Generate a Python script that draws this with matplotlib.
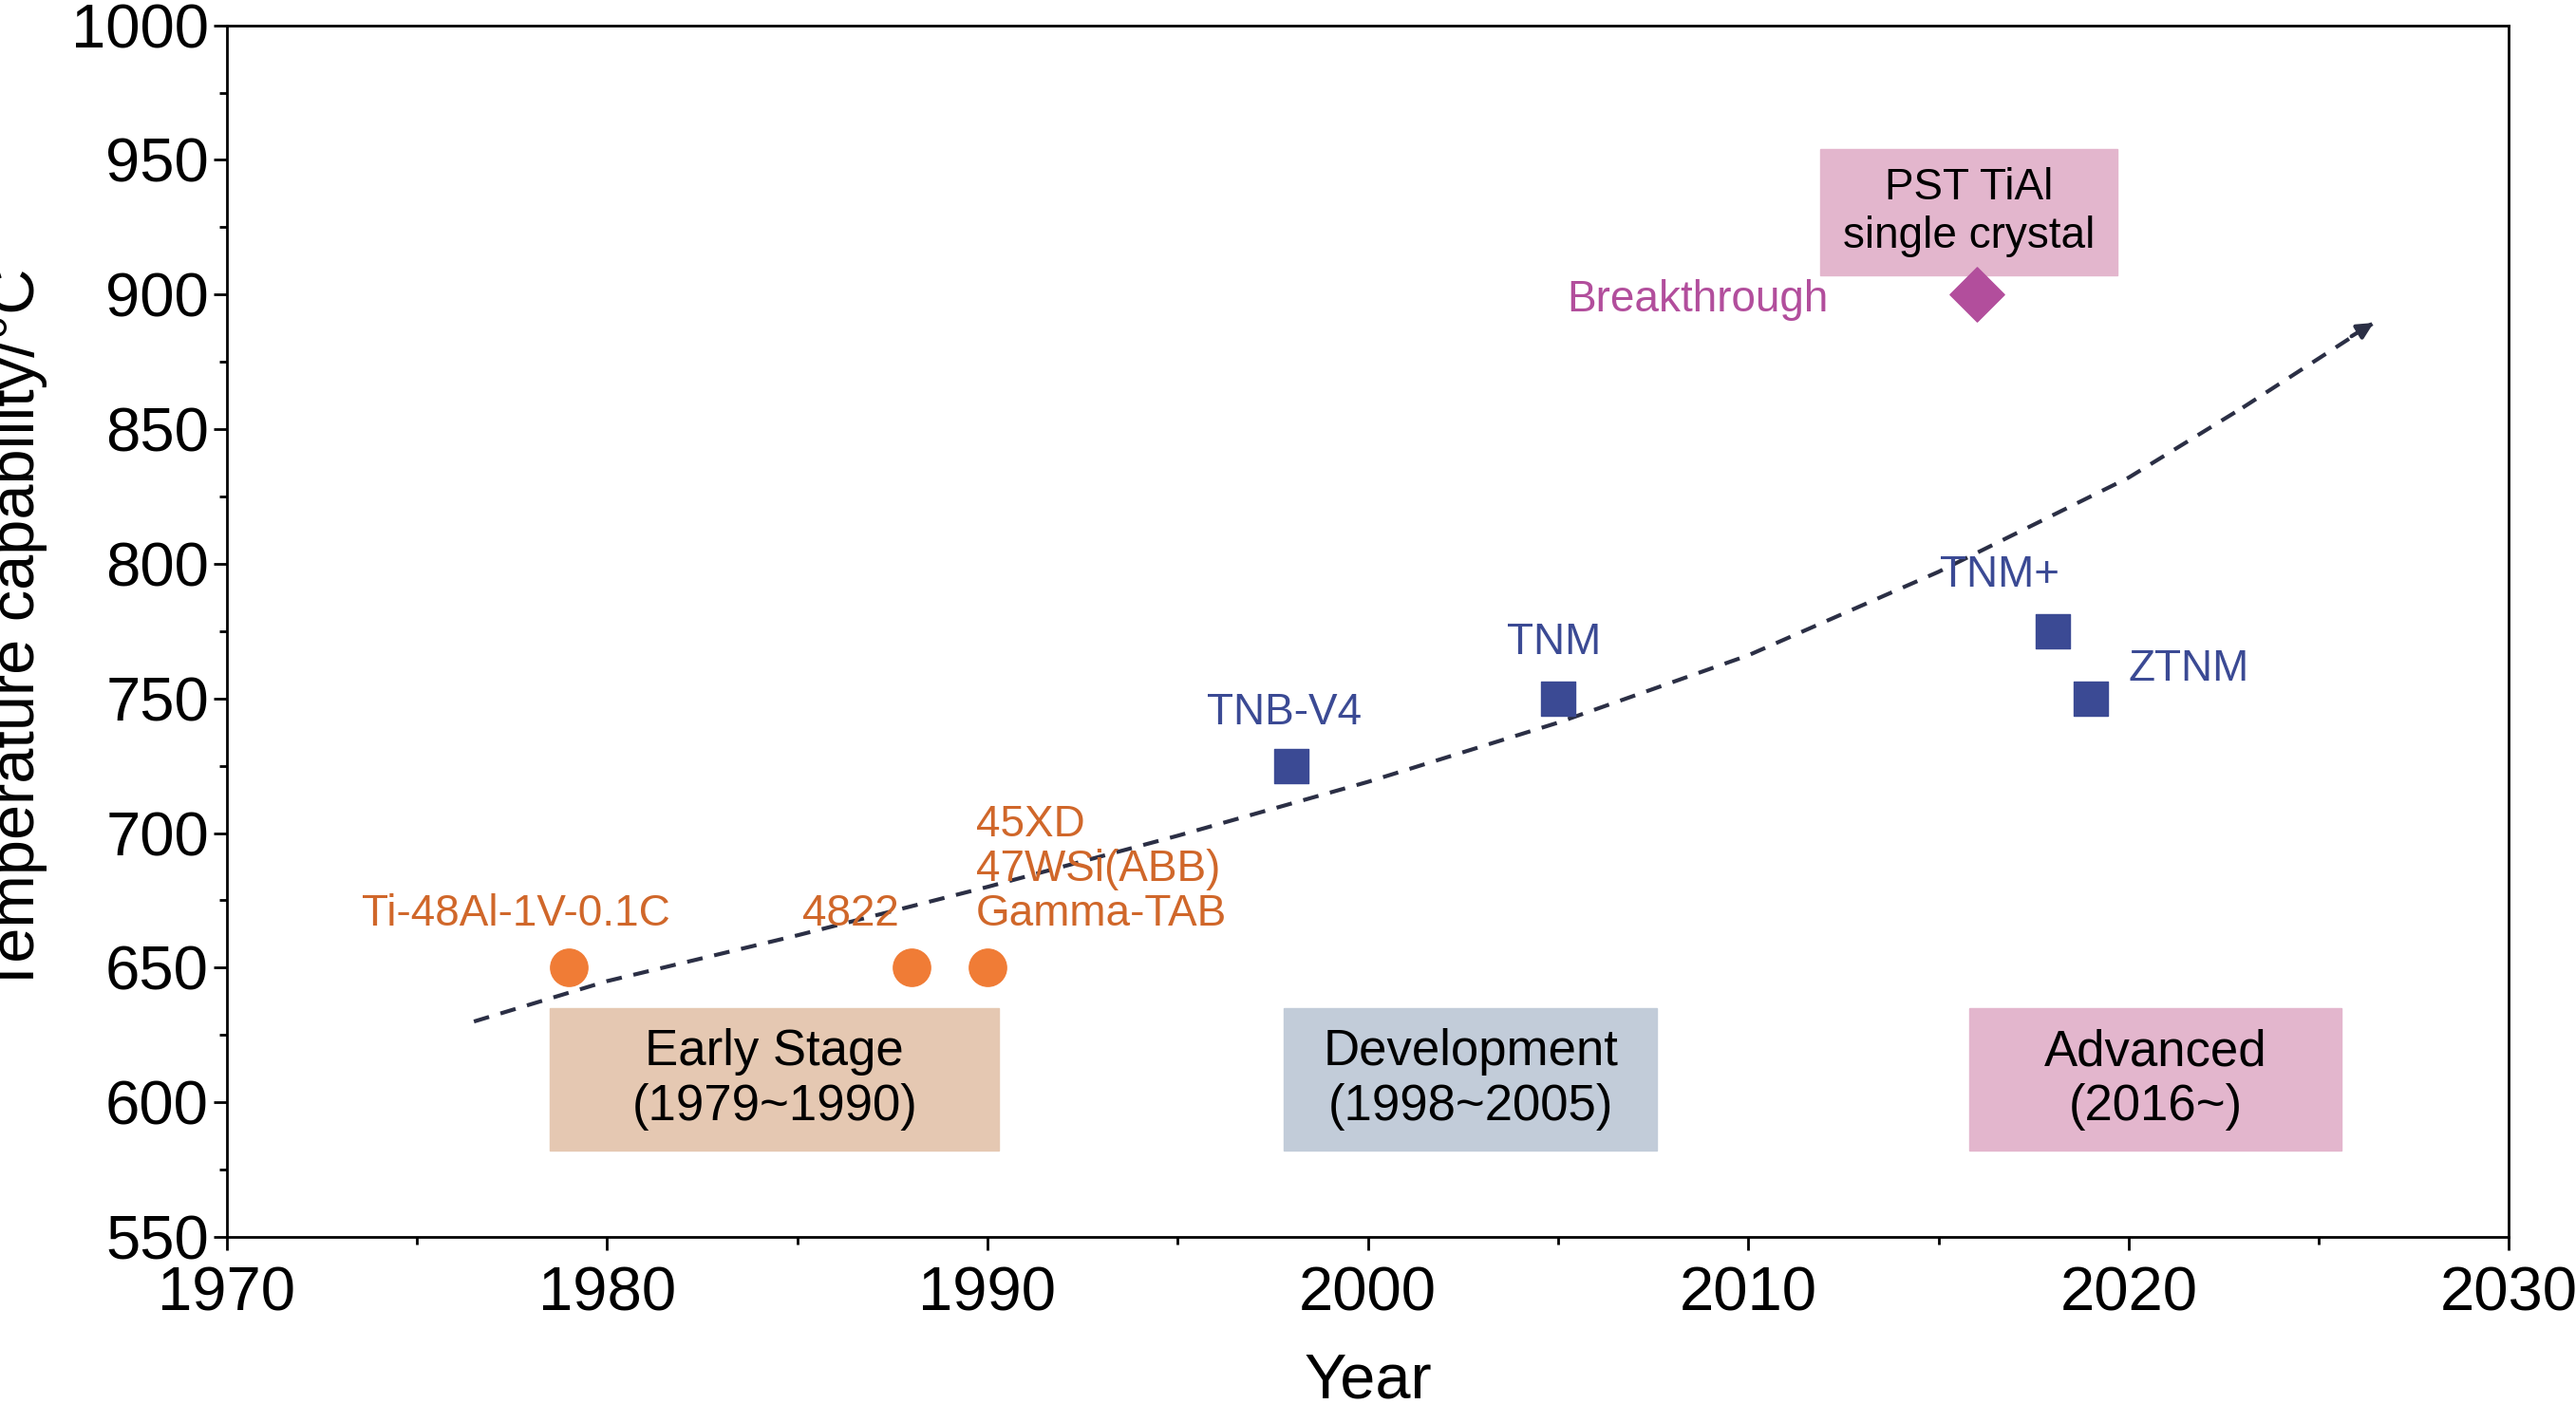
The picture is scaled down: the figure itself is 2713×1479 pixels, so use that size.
import matplotlib.pyplot as plt
from matplotlib.patches import Rectangle

plt.rcParams['font.family'] = ['Liberation Sans', 'DejaVu Sans']

# data
early_years = [1979, 1988, 1990]
early_temps = [650, 650, 650]
early_labels = ["Ti-48Al-1V-0.1C", "4822", "45XD\n47WSi(ABB)\nGamma-TAB"]
dev_years = [1998, 2005, 2018, 2019]
dev_temps = [725, 750, 775, 750]
dev_labels = ["TNB-V4", "TNM", "TNM+", "ZTNM"]
pst_year, pst_temp = 2016, 900
trend_x = [1976.5, 1980, 1985, 1990, 1995, 2000, 2005, 2010, 2015, 2020, 2023, 2026.5]
trend_y = [630, 645, 662, 680, 699, 719, 741, 766, 797, 832, 858, 890]

fig = plt.figure(figsize=(27.13, 14.79), dpi=100)
ax = fig.add_axes([0.088, 0.119, 0.886, 0.863])
ax.set_xlim(1970, 2030)
ax.set_ylim(550, 1000)

orange = '#f07c36'
otext = '#d0672a'
navy = '#3b4a94'
purple = '#b24e9c'
line_c = '#2b2f45'

# stage boxes
boxes = [(1978.5, 1990.3, '#e5c8b2', "Early Stage\n(1979~1990)"),
         (1997.8, 2007.6, '#c2ccd9', "Development\n(1998~2005)"),
         (2015.8, 2025.6, '#e3b6cd', "Advanced\n(2016~)")]
for x0, x1, c, t in boxes:
    ax.add_patch(Rectangle((x0, 582), x1 - x0, 53, color=c, zorder=1))
    ax.text((x0 + x1) / 2, 608.5, t, ha='center', va='center', fontsize=38,
            linespacing=1.2, zorder=2)
ax.add_patch(Rectangle((2011.9, 907), 7.8, 47, color='#e3b6cd', zorder=1))
ax.text(2015.8, 930.5, "PST TiAl\nsingle crystal", ha='center', va='center',
        fontsize=33, linespacing=1.2, zorder=2)

# trend
ax.plot(trend_x[:-1], trend_y[:-1], color=line_c, lw=3, dashes=(4, 3), zorder=2)
ax.plot(trend_x[-2:], trend_y[-2:], color=line_c, lw=3, dashes=(4, 3))
ax.annotate('', xy=(trend_x[-1], trend_y[-1]), xytext=(2025.8, 884),
            arrowprops=dict(arrowstyle='-|>', color=line_c, lw=3,
                            mutation_scale=25))

ax.scatter(early_years, early_temps, s=800, color=orange, zorder=3)
ax.scatter(dev_years, dev_temps, s=700, marker='s', color=navy, zorder=3)
ax.scatter([pst_year], [pst_temp], s=850, marker='D', color=purple, zorder=3)

fs = 33
ax.text(1977.6, 662, early_labels[0], ha='center', va='bottom', fontsize=fs, color=otext)
ax.text(1986.4, 662, early_labels[1], ha='center', va='bottom', fontsize=fs, color=otext)
ax.text(1989.7, 662, early_labels[2], ha='left', va='bottom', fontsize=fs,
        color=otext, linespacing=1.1)
ax.text(1997.8, 737, dev_labels[0], ha='center', va='bottom', fontsize=fs, color=navy)
ax.text(2004.9, 763, dev_labels[1], ha='center', va='bottom', fontsize=fs, color=navy)
ax.text(2016.6, 788, dev_labels[2], ha='center', va='bottom', fontsize=fs, color=navy)
ax.text(2020.0, 761, dev_labels[3], ha='left', va='center', fontsize=fs, color=navy)
ax.text(2012.1, 898, "Breakthrough", ha='right', va='center', fontsize=fs, color=purple)

ax.set_xticks(range(1970, 2031, 10))
ax.set_xticks(range(1975, 2030, 10), minor=True)
ax.set_yticks(range(550, 1001, 50))
ax.set_yticks(range(575, 1000, 50), minor=True)
ax.tick_params(labelsize=47, width=2, length=10, direction='out')
ax.tick_params(axis='x', pad=12)
ax.tick_params(which='minor', width=2, length=6)
for s in ax.spines.values():
    s.set_linewidth(2)
ax.set_xlabel("Year", fontsize=48, labelpad=22)
ax.set_ylabel("Temperature capability/°C", fontsize=48, labelpad=18)

fig.savefig('out.png')
